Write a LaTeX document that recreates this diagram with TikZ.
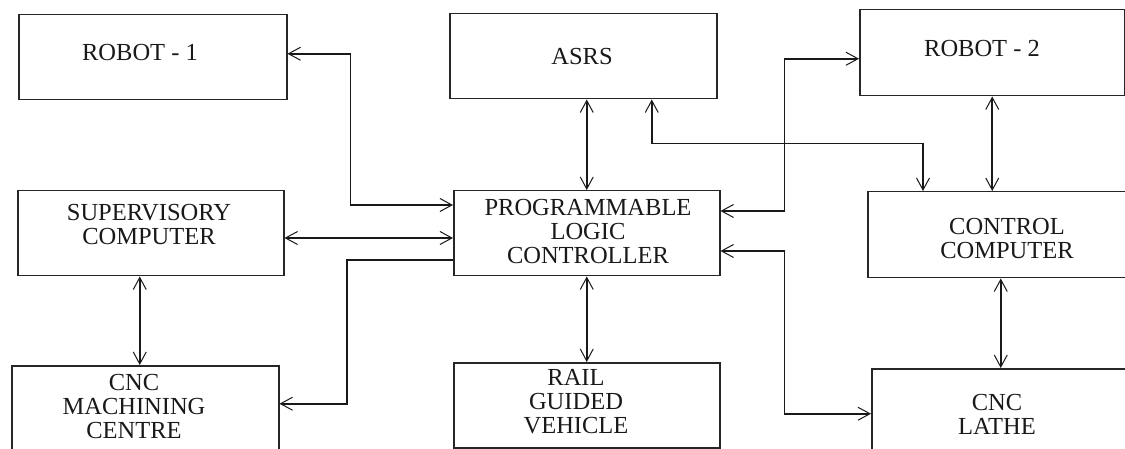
\documentclass[tikz,border=0pt]{standalone}
\usepackage{fontspec}
\setmainfont{Liberation Serif}
\usetikzlibrary{arrows.meta,calc}

\begin{document}
\begin{tikzpicture}[x=1pt,y=-1pt,
  box/.style={draw=black!85,line width=1.5pt,inner sep=0pt,anchor=north west},
  lbl/.style={font=\fontsize{24.5}{24}\selectfont,align=center,inner sep=0pt,text=black!90},
  link/.style={draw=black!90,line width=1.6pt},
  >={Straight Barb[length=12pt,width=13pt,line width=1pt]}]

% page
\fill[white] (0,0) rectangle (1125,449);
\useasboundingbox (0,0) rectangle (1125,449);

% blocks (top-left corner, size)
\node[box,minimum width=268,minimum height=85] (robot1) at (18,14) {};
\node[box,minimum width=267,minimum height=85] (asrs)   at (449,13) {};
\node[box,minimum width=265,minimum height=86] (robot2) at (859,9) {};
\node[box,minimum width=266,minimum height=85] (sup)    at (17,190) {};
\node[box,minimum width=266,minimum height=85] (plc)    at (453,190) {};
\node[box,minimum width=273,minimum height=86] (ctrl)   at (867,191) {};
\node[box,minimum width=267,minimum height=105] (cncm)  at (11,365) {};
\node[box,minimum width=266,minimum height=85] (rgv)    at (453,362) {};
\node[box,minimum width=269,minimum height=102] (lathe) at (871,368) {};

% block captions
\node[lbl] at (140,53)    {ROBOT - 1};
\node[lbl] at (582,57)    {ASRS};
\node[lbl] at (982,49)    {ROBOT - 2};
\node[lbl] at (149,224.5) {SUPERVISORY\\COMPUTER};
\node[lbl] at (588,232)   {PROGRAMMABLE\\LOGIC\\CONTROLLER};
\node[lbl] at (1007,239)  {CONTROL\\COMPUTER};
\node[lbl] at (134,407)   {CNC\\MACHINING\\CENTRE};
\node[lbl] at (576,402)   {RAIL\\GUIDED\\VEHICLE};
\node[lbl] at (997,414.5) {CNC\\LATHE};

% attachment points
\coordinate (plcR1) at ($(plc.north west)+(0,15)$);
\coordinate (plcS)  at ($(plc.north west)+(0,48)$);
\coordinate (plcM)  at ($(plc.north west)+(0,70)$);
\coordinate (plcR2) at ($(plc.north east)+(0,21)$);
\coordinate (plcL)  at ($(plc.north east)+(0,61)$);
\coordinate (supB)  at ($(sup.south)+(-11,0)$);
\coordinate (ctrlB) at ($(ctrl.south)+(-3.5,0)$);

% robot 1 <-> controller
\draw[link,<->] ($(robot1.east)+(0,-3.5)$) -- ++(63,0) |- (plcR1);
% ASRS <-> controller
\draw[link,<->] (plc.north |- asrs.south) -- (plc.north);
% ASRS <-> control computer
\draw[link,<->] ($(asrs.south)+(68.5,0)$) -- ++(0,44) -| ($(ctrl.north west)+(56,0)$);
% controller <-> robot 2
\draw[link,<->] (plcR2) -- ++(64,0) |- ($(robot2.west)+(0,6)$);
% robot 2 <-> control computer
\draw[link,<->] (robot2.south) -- (robot2.south |- ctrl.north);
% supervisory computer <-> controller
\draw[link,<->] (plcS -| sup.east) -- (plcS);
% supervisory computer <-> machining centre
\draw[link,<->] (supB) -- (supB |- cncm.north);
% controller -> machining centre
\draw[link,->] (plcM) -- ++(-106,0) |- ($(cncm.east)+(0,-14.5)$);
% controller <-> rail guided vehicle
\draw[link,<->] (plc.south) -- (rgv.north);
% controller <-> lathe
\draw[link,<->] (plcL) -- ++(64,0) |- ($(lathe.west)+(0,-6)$);
% control computer <-> lathe
\draw[link,<->] (ctrlB) -- (ctrlB |- lathe.north);
\end{tikzpicture}
\end{document}
